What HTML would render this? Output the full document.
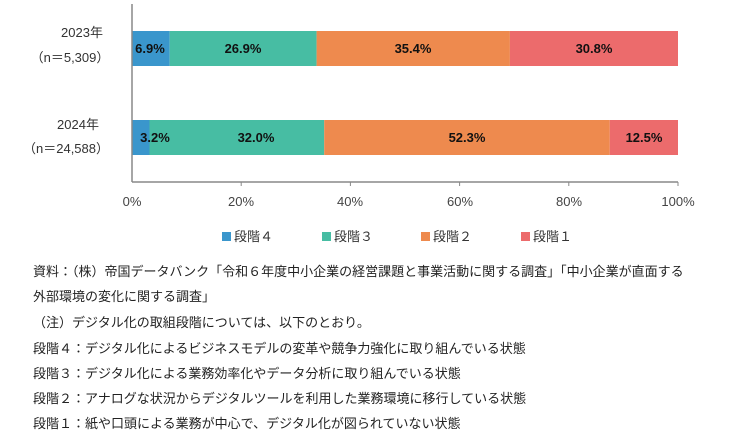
<!DOCTYPE html><html><head><meta charset="utf-8"><style>
body{margin:0;width:740px;height:438px;background:#fff;font-family:"Liberation Sans","Noto Sans CJK JP",sans-serif;color:#222;overflow:hidden}
.a{position:absolute;white-space:nowrap}
.n{font-size:13px;line-height:20px}
</style></head><body>
<svg class="a" style="left:0;top:0" width="740" height="260">
<g font-family="Liberation Sans,Noto Sans CJK JP,sans-serif">
<text x="82" y="37" font-size="13" text-anchor="middle" fill="#333">2023年</text>
<text x="70" y="62" font-size="13" text-anchor="middle" fill="#333">（n＝5,309）</text>
<text x="78" y="129" font-size="13" text-anchor="middle" fill="#333">2024年</text>
<text x="66" y="153" font-size="13" text-anchor="middle" fill="#333">（n＝24,588）</text>
<rect x="132" y="31" width="37.7" height="35" fill="#3a96cc"/>
<rect x="169.7" y="31" width="146.9" height="35" fill="#47bda3"/>
<rect x="316.6" y="31" width="193.3" height="35" fill="#ee8a4e"/>
<rect x="509.9" y="31" width="168.1" height="35" fill="#ec6b6c"/>
<rect x="132" y="120" width="17.5" height="35" fill="#3a96cc"/>
<rect x="149.5" y="120" width="174.7" height="35" fill="#47bda3"/>
<rect x="324.2" y="120" width="285.6" height="35" fill="#ee8a4e"/>
<rect x="609.8" y="120" width="68.2" height="35" fill="#ec6b6c"/>
<g font-size="13" font-weight="bold" text-anchor="middle" fill="#111">
<text x="150" y="53">6.9%</text><text x="243" y="53">26.9%</text><text x="413" y="53">35.4%</text><text x="594" y="53">30.8%</text>
<text x="155" y="142">3.2%</text><text x="256" y="142">32.0%</text><text x="467" y="142">52.3%</text><text x="644" y="142">12.5%</text>
</g>
<line x1="132" y1="4" x2="132" y2="182" stroke="#888" stroke-width="1.5"/>
<line x1="132" y1="182" x2="678" y2="182" stroke="#888" stroke-width="1.5"/>
<g stroke="#888"><line x1="241.2" y1="182" x2="241.2" y2="186"/><line x1="350.4" y1="182" x2="350.4" y2="186"/><line x1="459.6" y1="182" x2="459.6" y2="186"/><line x1="568.8" y1="182" x2="568.8" y2="186"/><line x1="678" y1="182" x2="678" y2="186"/></g>
<g font-size="13" text-anchor="middle" fill="#444">
<text x="132" y="206">0%</text><text x="241" y="206">20%</text><text x="350" y="206">40%</text><text x="460" y="206">60%</text><text x="569" y="206">80%</text><text x="678" y="206">100%</text>
</g>
<g font-size="13" fill="#333">
<rect x="222" y="232" width="9" height="9" fill="#3a96cc"/><text x="234" y="241">段階４</text>
<rect x="322" y="232" width="9" height="9" fill="#47bda3"/><text x="334" y="241">段階３</text>
<rect x="421" y="232" width="9" height="9" fill="#ee8a4e"/><text x="433" y="241">段階２</text>
<rect x="521" y="232" width="9" height="9" fill="#ec6b6c"/><text x="533" y="241">段階１</text>
</g></g></svg>
<div class="a n" style="left:33px;top:262px">資料：（株）帝国データバンク「令和６年度中小企業の経営課題と事業活動に関する調査」「中小企業が直面する</div>
<div class="a n" style="left:33px;top:287px">外部環境の変化に関する調査」</div>
<div class="a n" style="left:33px;top:313px">（注）デジタル化の取組段階については、以下のとおり。</div>
<div class="a n" style="left:33px;top:339px">段階４：デジタル化によるビジネスモデルの変革や競争力強化に取り組んでいる状態</div>
<div class="a n" style="left:33px;top:364px">段階３：デジタル化による業務効率化やデータ分析に取り組んでいる状態</div>
<div class="a n" style="left:33px;top:389px">段階２：アナログな状況からデジタルツールを利用した業務環境に移行している状態</div>
<div class="a n" style="left:33px;top:414px">段階１：紙や口頭による業務が中心で、デジタル化が図られていない状態</div>
</body></html>
